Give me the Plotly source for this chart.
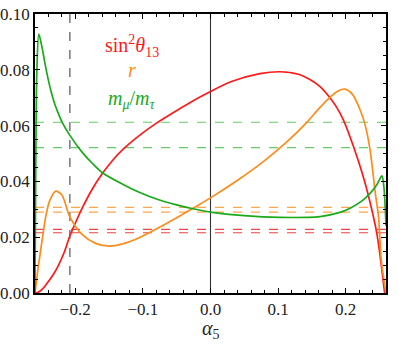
import plotly.graph_objects as go

# ---- data ----
red_x = [-0.2596, -0.255, -0.25, -0.245, -0.239, -0.232, -0.2244, -0.216, -0.208, -0.2, -0.19, -0.175,
         -0.16, -0.145, -0.128, -0.105, -0.081, -0.056, -0.03, 0.0, 0.03, 0.073, 0.1025, 0.13, 0.147,
         0.162, 0.174, 0.186, 0.197, 0.2115, 0.225, 0.234, 0.246, 0.2576]
red_y = [0.0, 0.0003, 0.0011, 0.0024, 0.0044, 0.0068, 0.0102, 0.0148, 0.0205, 0.025, 0.0303, 0.0372,
         0.0428, 0.0475, 0.0518, 0.0565, 0.0607, 0.0645, 0.0683, 0.0722, 0.0757, 0.0786, 0.0793, 0.0784, 0.0765,
         0.074, 0.0708, 0.0668, 0.0618, 0.0525, 0.0425, 0.0345, 0.0214, 0.0]

org_x = [-0.2596, -0.255, -0.249, -0.244, -0.238, -0.229, -0.22, -0.208, -0.19, -0.17, -0.15, -0.13,
         -0.1055, -0.086, -0.05, -0.026, 0.0, 0.04, 0.0777, 0.11, 0.14, 0.16, 0.174, 0.188, 0.199, 0.21,
         0.2214, 0.229, 0.236, 0.2437, 0.2486, 0.2526, 0.2596]
org_y = [0.0, 0.009, 0.019, 0.027, 0.033, 0.0365, 0.0352, 0.0273, 0.021, 0.0178, 0.0168, 0.0176,
         0.0198, 0.0222, 0.027, 0.0304, 0.0341, 0.0404, 0.047, 0.0535, 0.0605, 0.066, 0.0695, 0.0723, 0.0731, 0.0712,
         0.0656, 0.060, 0.0513, 0.036, 0.0273, 0.0118, 0.0]

grn_x = [-0.2596, -0.2585, -0.2568, -0.254, -0.25, -0.245, -0.24, -0.235, -0.23, -0.225, -0.219, -0.208,
         -0.19, -0.175, -0.16, -0.13, -0.1055, -0.08, -0.05, -0.026, 0.0, 0.05, 0.1025, 0.162, 0.19, 0.2065,
         0.225, 0.236, 0.246, 0.2536, 0.2565, 0.2596]
grn_y = [0.0, 0.045, 0.08, 0.0928, 0.089, 0.0825, 0.0765, 0.0715, 0.0675, 0.0643, 0.061, 0.0565,
         0.0505, 0.0465, 0.0431, 0.039, 0.0361, 0.0337, 0.0316, 0.0302, 0.029, 0.0277, 0.0271, 0.0274, 0.0288, 0.0304,
         0.0332, 0.0357, 0.0388, 0.042, 0.038, 0.024]

green_bounds = [0.0612, 0.0521]
orange_bounds = [0.0307, 0.0290]
red_bounds = [0.0228, 0.0216]
vline_dashed = -0.208
vline_solid = 0.0

labels = ["sin<sup>2</sup><i>θ</i><sub>13</sub>", "<i>r</i>", "<i>m</i><sub><i>μ</i></sub>/<i>m</i><sub><i>τ</i></sub>"]
label_y = [0.0885, 0.0799, 0.0695]

RED = "#ff1a1a"
ORG = "#ff8c1a"
GRN = "#1aaa1a"
FONT = "Liberation Serif"

fig = go.Figure()

for v, c in [(green_bounds, "#66cc66"), (orange_bounds, "#ffa64d"), (red_bounds, "#ee4444")]:
    for yv in v:
        fig.add_hline(y=yv, line=dict(color=c, width=1.2, dash="dash"), layer="below")
fig.add_vline(x=vline_dashed, line=dict(color="#555555", width=1.2, dash="dash"), layer="below")
fig.add_vline(x=vline_solid, line=dict(color="#333333", width=1.1), layer="below")

for xs, ys, c in [(red_x, red_y, RED), (org_x, org_y, ORG), (grn_x, grn_y, GRN)]:
    fig.add_trace(go.Scatter(x=xs, y=ys, mode="lines", line=dict(color=c, width=1.7, shape="spline", smoothing=0.8),
                             showlegend=False, hoverinfo="skip"))

for lab, c, yy in zip(labels, [RED, ORG, GRN], label_y):
    fig.add_annotation(x=-0.116, y=yy, text=lab, showarrow=False, xref="x", yref="y",
                       font=dict(family=FONT, size=20, color=c))

fig.add_annotation(x=0.0, y=-0.132, xref="x", yref="paper", text="<i>α</i><sub>5</sub>", showarrow=False,
                   yanchor="middle", font=dict(family=FONT, size=20, color="#222222"))

axis_common = dict(showline=True, linecolor="black", linewidth=1.6, mirror="allticks", ticks="inside",
                   tickcolor="black", ticklen=5, tickwidth=1.2, showgrid=False, zeroline=False, automargin=False,
                   tickfont=dict(family=FONT, size=17, color="#222222"))

fig.update_xaxes(range=[-0.2596, 0.2596], tickvals=[-0.2, -0.1, 0.0, 0.1, 0.2],
                 ticktext=["−0.2", "−0.1", "0.0", "0.1", "0.2"],
                 minor=dict(dtick=0.02, tick0=0, ticks="inside", ticklen=3, tickcolor="black", tickwidth=1),
                 **axis_common)
fig.update_yaxes(range=[0, 0.1], tickvals=[0, 0.02, 0.04, 0.06, 0.08, 0.10],
                 ticktext=["0.00", "0.02", "0.04", "0.06", "0.08", "0.10"],
                 minor=dict(dtick=0.005, tick0=0, ticks="inside", ticklen=3, tickcolor="black", tickwidth=1),
                 **axis_common)

fig.update_layout(width=399, height=347, margin=dict(l=35, r=13, t=14, b=54),
                  plot_bgcolor="white", paper_bgcolor="white")

fig.write_html("out.html", config={"displayModeBar": False},
               post_script="document.body.style.margin='0';document.body.style.overflow='hidden';")
